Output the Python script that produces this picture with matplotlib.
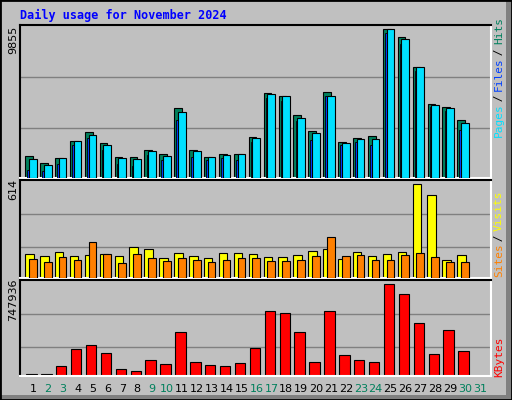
import matplotlib
matplotlib.use("Agg")
import matplotlib.pyplot as plt
from matplotlib.patches import Rectangle

days = list(range(1, 31))
day_labels = [str(d) for d in range(1, 32)]
weekend = [2, 3, 9, 10, 16, 17, 23, 24, 30, 31]
hits = [1449, 959, 1315, 2453, 3055, 2319, 1382, 1382, 1851, 1583, 4593, 1851, 1382, 1583, 1583,
        2720, 5596, 5396, 4125, 3121, 5663, 2386, 2653, 2787, 9855, 9342, 7335, 4861, 4660, 3857]
files = [513, 446, 914, 2185, 2653, 1851, 914, 780, 1516, 1182, 3857, 1382, 1182, 1315, 1182,
         2386, 5262, 5061, 3790, 2519, 5396, 2185, 2386, 2185, 9610, 8874, 7068, 4660, 4392, 3188]
pages = [1249, 847, 1315, 2453, 2854, 2185, 1315, 1249, 1784, 1449, 4325, 1784, 1382, 1516, 1583,
         2653, 5529, 5396, 3991, 2988, 5396, 2319, 2586, 2586, 9855, 9208, 7335, 4794, 4593, 3657]
visits = [155, 142, 168, 142, 149, 155, 142, 202, 188, 129, 162, 142, 129, 162, 162,
          155, 135, 135, 149, 175, 188, 122, 168, 142, 155, 168, 614, 547, 115, 149]
sites = [122, 102, 135, 115, 235, 155, 95, 155, 129, 109, 129, 115, 102, 115, 129,
         129, 109, 109, 115, 142, 268, 142, 149, 115, 115, 149, 162, 135, 102, 102]
kbytes = [19108, 19108, 84621, 223835, 256592, 191079, 60053, 43675, 133755, 100999, 363050,
          117377, 92810, 84621, 109188, 232024, 526832, 510454, 363050, 117377, 526832,
          174701, 133755, 117377, 747936, 666047, 428563, 182890, 379428, 207457]

W, H = 512, 400
BG = "#C0C0C0"
fig = plt.figure(figsize=(W / 100, H / 100), dpi=100, facecolor=BG)
mono = "DejaVu Sans Mono"

fig.patches.append(Rectangle((506 / W, 0), 6 / W, 1, transform=fig.transFigure,
                             facecolor="#808080", edgecolor="none"))
fig.patches.append(Rectangle((0, 0), 1, 5 / H, transform=fig.transFigure,
                             facecolor="#808080", edgecolor="none"))
fig.patches.append(Rectangle((0, 0), 1, 1, transform=fig.transFigure, fill=False,
                             edgecolor="black", lw=2))

def ax_px(left, top, right, bottom):
    return fig.add_axes([left / W, 1 - bottom / H, (right - left) / W, (bottom - top) / H])

XL = (0.15, 31.72)

def style(ax, ymax, frac):
    ax.set_facecolor(BG)
    ax.set_xlim(*XL)
    ax.set_ylim(0, ymax * frac)
    ax.set_xticks([])
    ax.set_yticks([])
    for s in ("left", "top"):
        ax.spines[s].set_color("black")
    for s in ("right", "bottom"):
        ax.spines[s].set_color("white")
    for sp in ax.spines.values():
        sp.set_linewidth(1.5)

a1 = ax_px(20.3, 25, 490.7, 177.5)
style(a1, 9855, 455 / 442)
for f in (0.335, 0.68):
    a1.axhline(9855 * f, color="#808080", lw=1, zorder=0)
a1.bar([d - 0.26 for d in days], hits, width=0.52, align="center", color="#00805C",
       edgecolor="black", lw=0.8, zorder=2)
a1.bar([d - 0.31 for d in days], files, width=0.13, align="center", color="#0040FF",
       edgecolor="black", lw=0.6, zorder=3)
a1.bar([d - 0.01 for d in days], pages, width=0.52, align="center", color="#00E0FF",
       edgecolor="black", lw=0.8, zorder=4)
fig.text(13 / W, 1 - 40 / H, "9855", rotation=90, ha="center", va="center",
         fontsize=8, family="DejaVu Sans")

a2 = ax_px(20.3, 180, 490.7, 277.5)
style(a2, 614, 290 / 277)
for f in (0.33, 0.686):
    a2.axhline(614 * f, color="#808080", lw=1, zorder=0)
a2.bar([d - 0.24 for d in days], visits, width=0.57, align="center", color="#FFFF00",
       edgecolor="black", lw=0.8, zorder=2)
a2.bar([d - 0.01 for d in days], sites, width=0.52, align="center", color="#FF8000",
       edgecolor="black", lw=0.8, zorder=3)
fig.text(13 / W, 1 - 189 / H, "614", rotation=90, ha="center", va="center",
         fontsize=8, family="DejaVu Sans")

a3 = ax_px(20.3, 280, 490.7, 376)
style(a3, 747936, 287 / 274)
for f in (0.32, 0.68):
    a3.axhline(747936 * f, color="#808080", lw=1, zorder=0)
a3.bar([d - 0.1 for d in days], kbytes, width=0.7, align="center", color="#FF0000",
       edgecolor="black", lw=0.8, zorder=2)
fig.text(13 / W, 1 - 300 / H, "747936", rotation=90, ha="center", va="center",
         fontsize=8, family="DejaVu Sans")

for i, lab in enumerate(day_labels):
    d = i + 1
    x = 33 + (d - 1) * 14.9
    col = "#00805C" if d in weekend else "black"
    fig.text(x / W, 1 - 389 / H, lab, ha="center", va="center", fontsize=8,
             color=col, family="DejaVu Sans")

fig.text(20 / W, 1 - 15 / H, "Daily usage for November 2024", ha="left", va="center",
         fontsize=8.5, color="#0000FF", family=mono, fontweight="bold")

def vlabel(parts, x, ybottom):
    y = ybottom
    for txt, col in parts:
        fig.text(x / W, 1 - y / H, txt, rotation=90, ha="center", va="bottom",
                 fontsize=8, color=col, family=mono)
        y -= len(txt) * 5.8

vlabel([("Pages", "#00E0FF"), (" / ", "black"), ("Files", "#0040FF"), (" / ", "black"),
        ("Hits", "#00805C")], 499, 137)
vlabel([("Sites", "#FF8000"), (" / ", "black"), ("Visits", "#FFFF00")], 499, 277)
vlabel([("KBytes", "#FF0000")], 499, 377)

fig.savefig("out.png", dpi=100, facecolor=BG)
